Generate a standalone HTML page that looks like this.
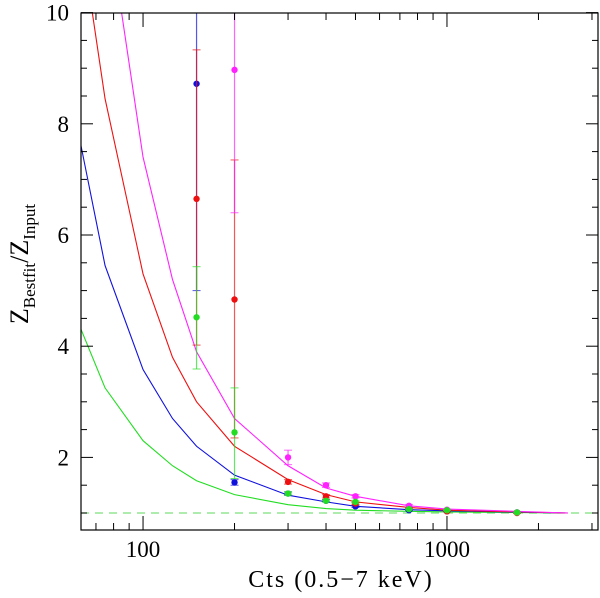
<!DOCTYPE html>
<html><head><meta charset="utf-8"><style>
body{margin:0;background:#fff;}
svg text{font-family:"Liberation Serif",serif;fill:#000;}
</style></head><body>
<svg id="chart" width="600" height="593" viewBox="0 0 600 593" xmlns="http://www.w3.org/2000/svg">
<defs><clipPath id="clip"><rect x="81" y="13" width="517" height="517"/></clipPath></defs>
<g id="curves" clip-path="url(#clip)"></g>
<g id="points" clip-path="url(#clip)"></g>
<rect x="81" y="13" width="517" height="517" fill="none" stroke="#000" stroke-width="1.2"/>
<g id="axes"></g>
<text x="341" y="587" font-size="24" letter-spacing="2" text-anchor="middle">Cts (0.5−7 keV)</text>
<text transform="translate(28,264) rotate(-90)" font-size="26" text-anchor="middle">Z<tspan font-size="17" dy="7">Bestfit</tspan><tspan dy="-7">/Z</tspan><tspan font-size="17" dy="7">Input</tspan></text>
</svg>
<script>
const curveX=[62,75,100,125,150,200,300,400,500,750,1000,2500];
const curveGreen=[4.35,3.25,2.3,1.85,1.58,1.33,1.15,1.08,1.05,1.03,1.02,1.0];
const curveBlue=[7.7,5.45,3.58,2.7,2.2,1.68,1.32,1.2,1.12,1.06,1.04,1.0];
const curveRed=[11.5,8.45,5.3,3.8,3.0,2.2,1.6,1.33,1.2,1.1,1.05,1.0];
const curveMagenta=[15,12,7.4,5.2,3.9,2.7,1.85,1.45,1.3,1.13,1.07,1.0];
const ptX=[150,200,300,400,500,750,1000,1700];
const ptBlue=[8.72,1.55,1.35,1.22,1.12,1.05,1.03,1.01];
const ptBlueLo=[5.0,1.5,1.32,1.2,1.1,1.04,1.02,1.0];
const ptBlueHi=[12,1.6,1.38,1.24,1.14,1.06,1.04,1.02];
const ptRed=[6.65,4.84,1.56,1.3,1.17,1.08,1.03,1.0];
const ptRedLo=[4.02,2.35,1.52,1.27,1.15,1.07,1.02,0.99];
const ptRedHi=[9.33,7.35,1.6,1.33,1.19,1.09,1.04,1.01];
const ptGreen=[4.52,2.45,1.35,1.22,1.2,1.07,1.05,1.01];
const ptGreenLo=[3.59,1.62,1.32,1.2,1.18,1.06,1.04,1.0];
const ptGreenHi=[5.43,3.25,1.38,1.24,1.22,1.08,1.06,1.02];
const ptMagenta=[null,8.97,2.0,1.5,1.3,1.13,1.06,1.01];
const ptMagentaLo=[null,6.4,1.87,1.46,1.27,1.11,1.05,1.0];
const ptMagentaHi=[null,12,2.13,1.54,1.33,1.15,1.07,1.02];
const yTicks=[2,4,6,8,10];
const xMajor=[100,1000];
const xMinor=[70,80,90,200,300,400,500,600,700,800,900,2000,3000];
const NS="http://www.w3.org/2000/svg";
const L=81,R=598,T=13,B=530;
const lx0=Math.log10(62.5),lx1=Math.log10(3140);
function X(v){return L+(Math.log10(v)-lx0)/(lx1-lx0)*(R-L);}
function Y(v){return 513-(v-1)*55.6;}
function el(tag,attrs,parent){const e=document.createElementNS(NS,tag);for(const k in attrs)e.setAttribute(k,attrs[k]);parent.appendChild(e);return e;}
const gc=document.getElementById('curves'),gp=document.getElementById('points'),ga=document.getElementById('axes');
const dl=el('line',{x1:L,x2:R,y1:Y(1),y2:Y(1),stroke:'#7de07d','stroke-width':1.3,'stroke-dasharray':'8,6'},gc);


const series=[['green','#22dd22',curveGreen],['blue','#1010dd',curveBlue],['red','#ee1010',curveRed],['magenta','#ff22ff',curveMagenta]];
series.forEach(([n,c,d])=>{
 const p=el('polyline',{points:curveX.map((x,i)=>X(x)+','+Y(d[i])).join(' '),fill:'none',stroke:c,'stroke-width':1.1},gc);
 
 
});
const pts=[['blue','#1010dd',ptBlue,ptBlueLo,ptBlueHi],['red','#ee1010',ptRed,ptRedLo,ptRedHi],['magenta','#ff22ff',ptMagenta,ptMagentaLo,ptMagentaHi],['green','#22dd22',ptGreen,ptGreenLo,ptGreenHi]];
pts.forEach(([n,c,v,lo,hi])=>{
 ptX.forEach((x,i)=>{
  if(v[i]==null)return;
  const g=el('g',{},gp);
  
  
  const px=X(x);
  el('line',{x1:px,x2:px,y1:Y(lo[i]),y2:Y(hi[i]),stroke:c,'stroke-width':1.2,'stroke-opacity':0.7},g);
  el('line',{x1:px-4,x2:px+4,y1:Y(lo[i]),y2:Y(lo[i]),stroke:c,'stroke-width':1,'stroke-opacity':0.7},g);
  el('line',{x1:px-4,x2:px+4,y1:Y(hi[i]),y2:Y(hi[i]),stroke:c,'stroke-width':1,'stroke-opacity':0.7},g);
  el('circle',{cx:px,cy:Y(v[i]),r:3.2,fill:c},g);
 });
});
for(let v=1;v<=10;v+=0.5){
 const len=(v%2===0)?12:6;const y=Y(v);
 if(y>B)continue;
 el('line',{x1:L,x2:L+len,y1:y,y2:y,stroke:'#000'},ga);
 el('line',{x1:R,x2:R-len,y1:y,y2:y,stroke:'#000'},ga);
}
yTicks.forEach(v=>{
 const t=el('text',{x:69,y:Y(v)+8,'font-size':23,'text-anchor':'end'},ga);
 t.textContent=v;
 
 
});
xMinor.forEach(v=>{const x=X(v);
 el('line',{x1:x,x2:x,y1:B,y2:B-7,stroke:'#000'},ga);
 el('line',{x1:x,x2:x,y1:T,y2:T+7,stroke:'#000'},ga);});
xMajor.forEach(v=>{const x=X(v);
 el('line',{x1:x,x2:x,y1:B,y2:B-14,stroke:'#000'},ga);
 el('line',{x1:x,x2:x,y1:T,y2:T+14,stroke:'#000'},ga);
 const t=el('text',{x:x,y:557,'font-size':23,'text-anchor':'middle'},ga);
 t.textContent=v;
 
 
});
</script>
</body></html>
